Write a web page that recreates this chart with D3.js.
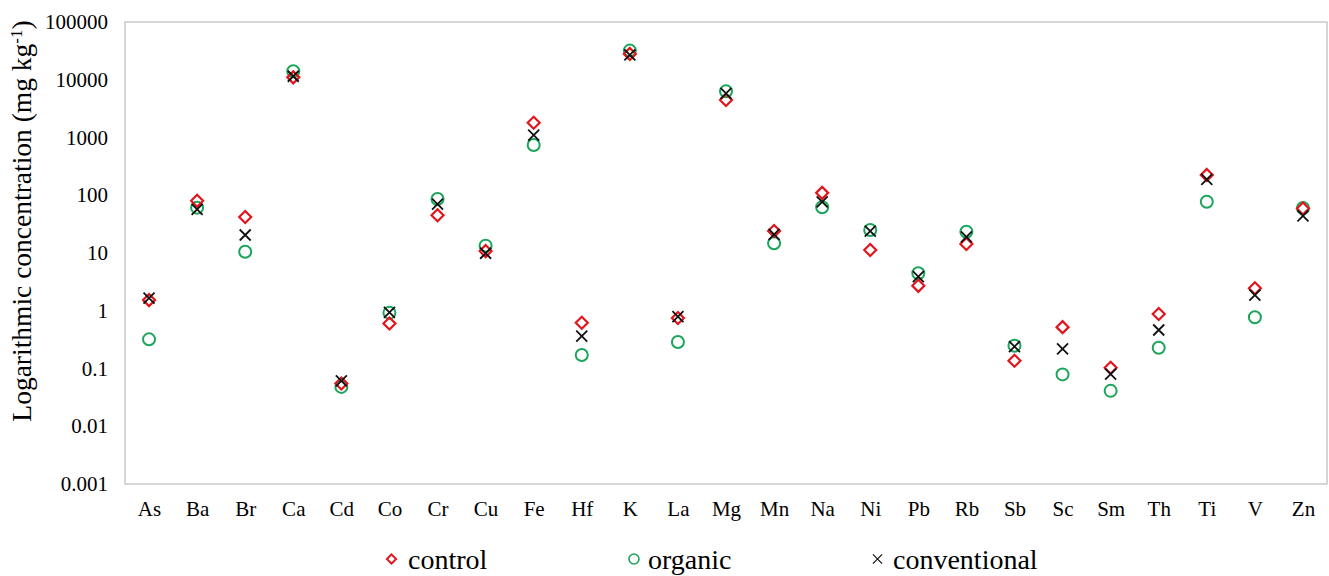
<!DOCTYPE html>
<html>
<head>
<meta charset="utf-8">
<script src="https://cdn.jsdelivr.net/npm/d3@7"></script>
<style>
	body { margin: 0; background: #fff; }
	text { font-family: "Liberation Serif", "Times New Roman", serif; fill: #000; }
</style>
</head>
<body>
<div id="container"></div>
<script>
// element categories along the x axis
var elements = ["As", "Ba", "Br", "Ca", "Cd", "Co", "Cr", "Cu", "Fe", "Hf", "K", "La", "Mg",
	"Mn", "Na", "Ni", "Pb", "Rb", "Sb", "Sc", "Sm", "Th", "Ti", "V", "Zn"];

// concentrations in mg/kg
var control = [1.53, 80, 42, 11000, 0.055, 0.6, 45, 10.8, 1800, 0.62, 28000, 0.75, 4450,
	24, 110, 11.3, 2.7, 14.3, 0.136, 0.52, 0.103, 0.88, 225, 2.45, 59];
var organic = [0.32, 61, 10.5, 14000, 0.048, 0.92, 86, 13.4, 740, 0.171, 32000, 0.288, 6300,
	14.7, 62, 25, 4.45, 23.4, 0.248, 0.079, 0.041, 0.229, 77, 0.77, 60];
var conventional = [1.65, 57, 20.5, 11500, 0.061, 0.94, 70, 9.9, 1100, 0.365, 27000, 0.79, 5800,
	21, 77, 24, 3.9, 19, 0.24, 0.218, 0.080, 0.464, 189, 1.87, 44];

var yTicks = [0.001, 0.01, 0.1, 1, 10, 100, 1000, 10000, 100000];

var W = 1329, H = 576;
var margin = {top: 22, right: 2, bottom: 92, left: 125};
var width = W - margin.left - margin.right,
	height = H - margin.top - margin.bottom;

var red = "#e3151b", green = "#1aa55a";
var font = '"Liberation Serif", "Times New Roman", serif';

var svg = d3.select("#container").append("svg")
	.attr("width", W)
	.attr("height", H);

var g = svg.append("g").attr("transform", "translate(" + margin.left + "," + margin.top + ")");

var x = d3.scalePoint().domain(elements).range([0, width]).padding(0.5);
var y = d3.scaleLog().domain([0.001, 100000]).range([height, 0]);

// plot frame
g.append("rect")
	.attr("width", width)
	.attr("height", height)
	.attr("fill", "none")
	.attr("stroke", "#c9c9c9")
	.attr("stroke-width", 1.5);

var yAxis = d3.axisLeft(y).tickValues(yTicks).tickSize(0).tickPadding(17)
	.tickFormat(function(d) { return d3.format("~f")(d); });
g.append("g").attr("class", "y axis").call(yAxis)
	.attr("font-family", font)
	.call(s => s.select(".domain").remove())
	.selectAll("text").style("font-size", "21px").attr("fill", "#000");

var xAxis = d3.axisBottom(x).tickSize(0).tickPadding(17);
g.append("g").attr("class", "x axis")
	.attr("transform", "translate(0," + height + ")")
	.attr("font-family", font)
	.call(xAxis)
	.call(s => s.select(".domain").remove())
	.selectAll("text").style("font-size", "21px").attr("fill", "#000");

// y title
var title = svg.append("text")
	.attr("transform", "translate(31,221) rotate(-90)")
	.attr("text-anchor", "middle")
	.style("font-size", "27.5px");
title.append("tspan").text("Logarithmic concentration (mg kg");
title.append("tspan").attr("baseline-shift", "super").style("font-size", "17px").text("-1");
title.append("tspan").text(")");

var diamond = function(s) { return "M0," + (-s) + "L" + s + ",0L0," + s + "L" + (-s) + ",0Z"; };
var cross = function(s) { return "M" + (-s) + "," + (-s) + "L" + s + "," + s + "M" + s + "," + (-s) + "L" + (-s) + "," + s; };

// organic circles
g.append("g").selectAll("circle")
	.data(elements)
	.join("circle")
	.attr("cx", d => x(d))
	.attr("cy", (d, i) => y(organic[i]))
	.attr("r", 6)
	.attr("fill", "none")
	.attr("stroke", green)
	.attr("stroke-width", 2);

// control diamonds
g.append("g").selectAll("path")
	.data(elements)
	.join("path")
	.attr("transform", (d, i) => "translate(" + x(d) + "," + y(control[i]) + ")")
	.attr("d", diamond(6))
	.attr("fill", "none")
	.attr("stroke", red)
	.attr("stroke-width", 2.2);

// conventional crosses
g.append("g").selectAll("path")
	.data(elements)
	.join("path")
	.attr("transform", (d, i) => "translate(" + x(d) + "," + y(conventional[i]) + ")")
	.attr("d", cross(5.5))
	.attr("fill", "none")
	.attr("stroke", "#111")
	.attr("stroke-width", 1.8);

// legend
var legend = svg.append("g").attr("class", "legend");
var legendItems = [
	{name: "control", x: 391.5, tx: 408, mark: "diamond"},
	{name: "organic", x: 634, tx: 648, mark: "circle"},
	{name: "conventional", x: 877.5, tx: 893, mark: "cross"}
];
var ly = 559;
legendItems.forEach(function(it) {
	if (it.mark === "diamond") {
		legend.append("path").attr("transform", "translate(" + it.x + "," + ly + ")")
			.attr("d", diamond(4.6)).attr("fill", "none").attr("stroke", red).attr("stroke-width", 2);
	} else if (it.mark === "circle") {
		legend.append("circle").attr("cx", it.x).attr("cy", ly).attr("r", 5)
			.attr("fill", "none").attr("stroke", green).attr("stroke-width", 1.6);
	} else {
		legend.append("path").attr("transform", "translate(" + it.x + "," + ly + ")")
			.attr("d", cross(4.6)).attr("fill", "none").attr("stroke", "#111").attr("stroke-width", 1.2);
	}
	legend.append("text")
		.attr("x", it.tx)
		.attr("y", 569)
		.style("font-size", "28px")
		.text(it.name);
});
</script>
</body>
</html>
